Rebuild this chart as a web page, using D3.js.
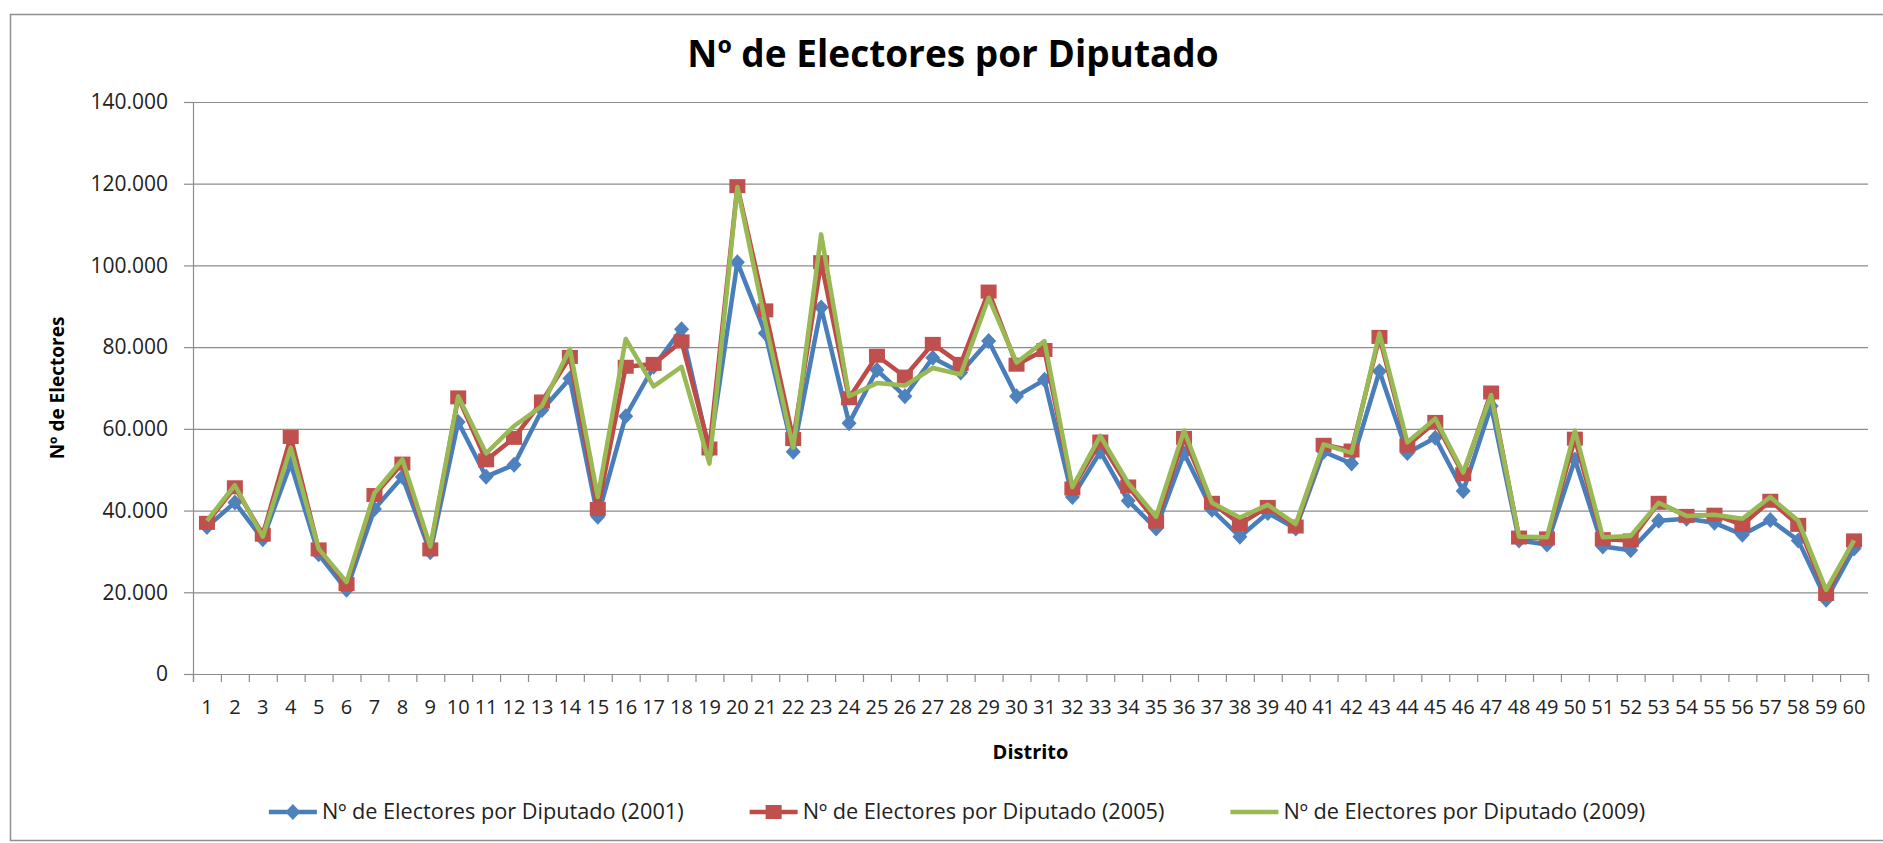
<!DOCTYPE html>
<html>
<head>
<meta charset="utf-8">
<script src="https://cdn.jsdelivr.net/npm/d3@7"></script>
<style>
  html, body { margin: 0; padding: 0; background: #fff; }
  svg { display: block; font-family: 'Open Sans', sans-serif; }
</style>
</head>
<body>
<svg id="chart" width="1883" height="843"></svg>
<script>
// categories (distritos) and the three series
const distritos = ['1','2','3','4','5','6','7','8','9','10','11','12','13','14','15','16','17','18','19','20',
  '21','22','23','24','25','26','27','28','29','30','31','32','33','34','35','36','37','38','39','40',
  '41','42','43','44','45','46','47','48','49','50','51','52','53','54','55','56','57','58','59','60'];

const electores2001 = [36000, 42000, 33000, 51500, 29300, 20600, 40400, 48200, 29800, 61700,
  48300, 51200, 64600, 72300, 38500, 63100, 75200, 84400, 54400, 100800,
  83400, 54400, 89700, 61400, 74400, 68000, 77400, 73800, 81500, 68000,
  72000, 43300, 54400, 42400, 35600, 54000, 40200, 33600, 39400, 35600,
  54400, 51500, 74100, 54100, 57800, 44800, 65600, 32700, 31700, 52500,
  31200, 30300, 37500, 38000, 37000, 34100, 37700, 32700, 18200, 30700];

const electores2005 = [37000, 45700, 34100, 58000, 30500, 22000, 43800, 51500, 30500, 67700,
  52300, 57800, 66700, 77600, 40400, 75200, 75900, 81400, 55200, 119400,
  89000, 57500, 100800, 67500, 77900, 72800, 80800, 75900, 93600, 75700,
  79300, 45400, 56900, 45900, 37300, 57800, 41900, 36700, 40900, 36100,
  56100, 54700, 82500, 55900, 61700, 48900, 68900, 33400, 33200, 57600,
  33000, 32700, 41900, 38700, 39000, 36500, 42400, 36500, 19600, 32700];

const electores2009 = [37500, 46200, 33600, 55400, 30700, 22500, 44300, 52500, 31200, 68000,
  54000, 60700, 65600, 79600, 43300, 82000, 70400, 75200, 51500, 119200,
  86000, 55400, 107600, 68000, 71200, 70600, 74900, 73300, 92100, 76200,
  81500, 45700, 58300, 46700, 38500, 59600, 41900, 38300, 41400, 36700,
  56200, 54100, 83400, 56700, 62500, 49300, 68300, 33600, 33500, 59600,
  33500, 33800, 41900, 38700, 39000, 38000, 43300, 37500, 20600, 32700];

const yTicks = [0, 20000, 40000, 60000, 80000, 100000, 120000, 140000];

const seriesNames = [
  'Nº de Electores por Diputado (2001)',
  'Nº de Electores por Diputado (2005)',
  'Nº de Electores por Diputado (2009)'
];

const series = [
  { name: seriesNames[0], values: electores2001, line: '#4A7EBB', fill: '#4F81BD', marker: 'diamond' },
  { name: seriesNames[1], values: electores2005, line: '#BE4B48', fill: '#C0504D', marker: 'square' },
  { name: seriesNames[2], values: electores2009, line: '#98B954', fill: '#9BBB59', marker: 'none' }
];

const svg = d3.select('#chart');
const margin = { top: 102, left: 193, right: 15, bottom: 169 };
const width = 1883 - margin.left - margin.right;
const height = 843 - margin.top - margin.bottom;
const gridColor = '#8c8c8c';

// outer chart frame (right side runs off the picture)
svg.append('rect')
  .attr('x', 10.5).attr('y', 14.5)
  .attr('width', 1900).attr('height', 826)
  .attr('fill', 'none').attr('stroke', '#909090').attr('stroke-width', 1.5);

// title
svg.append('text')
  .attr('x', 953).attr('y', 67)
  .attr('text-anchor', 'middle')
  .style('font-size', '37px').style('font-weight', 'bold')
  .text('Nº de Electores por Diputado');

const g = svg.append('g').attr('transform', `translate(${margin.left},${margin.top})`);

const x = d3.scaleBand().domain(distritos).range([0, width]).padding(0);
const xEdge = d3.scaleLinear().domain([0, distritos.length]).range([0, width]);
const y = d3.scaleLinear().domain([0, 140000]).range([height, 0]);

// gridlines
g.append('g')
  .attr('class', 'grid')
  .call(d3.axisLeft(y).tickValues(yTicks.slice(1)).tickSize(-width).tickFormat(''))
  .call(a => a.select('.domain').remove())
  .selectAll('line').attr('stroke', gridColor).attr('stroke-width', 1.2);

// y axis
g.append('g')
  .attr('class', 'y-axis')
  .call(d3.axisLeft(y).tickValues(yTicks).tickSize(9).tickPadding(16)
    .tickFormat(d => d3.format(',')(d).replace(/,/g, '.')))
  .call(a => a.select('.domain').attr('stroke', gridColor).attr('stroke-width', 1.2))
  .call(a => a.selectAll('line').attr('stroke', gridColor).attr('stroke-width', 1.2))
  .selectAll('text')
  .style('font-size', '21px').style('font-family', "'Open Sans', sans-serif").attr('fill', '#222');

// x axis: boundary ticks between categories
g.append('g')
  .attr('class', 'x-ticks')
  .attr('transform', `translate(0,${height})`)
  .call(d3.axisBottom(xEdge).tickValues(d3.range(distritos.length + 1)).tickSize(8).tickFormat(''))
  .call(a => a.select('.domain').attr('stroke', gridColor).attr('stroke-width', 1.2))
  .selectAll('line').attr('stroke', gridColor).attr('stroke-width', 1.2);

// x axis labels centred in each category
g.append('g')
  .attr('class', 'x-axis')
  .attr('transform', `translate(0,${height})`)
  .call(d3.axisBottom(x).tickSize(0).tickPadding(26))
  .call(a => a.select('.domain').remove())
  .selectAll('text')
  .style('font-size', '20px').style('font-family', "'Open Sans', sans-serif").attr('fill', '#222');

// axis titles
svg.append('text')
  .attr('x', margin.left + width / 2).attr('y', 759)
  .attr('text-anchor', 'middle')
  .style('font-size', '20px').style('font-weight', 'bold')
  .text('Distrito');

svg.append('text')
  .attr('transform', `translate(64,${margin.top + height / 2}) rotate(-90)`)
  .attr('text-anchor', 'middle')
  .style('font-size', '19px').style('font-weight', 'bold')
  .text('Nº de Electores');

const cx = d => x(d) + x.bandwidth() / 2;
const line = d3.line().x((v, i) => cx(distritos[i])).y(v => y(v));

const diamond = 'M0,-8L7.5,0L0,8L-7.5,0Z';

function drawMarker(sel, s) {
  if (s.marker === 'diamond') {
    sel.append('path').attr('d', diamond).attr('fill', s.fill);
  } else if (s.marker === 'square') {
    sel.append('rect').attr('x', -8).attr('y', -7).attr('width', 16).attr('height', 14).attr('fill', s.fill);
  }
}

// series: line first then its markers, drawn in order
series.forEach(s => {
  const sg = g.append('g').attr('class', 'series');
  sg.append('path')
    .datum(s.values)
    .attr('fill', 'none')
    .attr('stroke', s.line)
    .attr('stroke-width', 4.5)
    .attr('stroke-linejoin', 'round')
    .attr('d', line);

  if (s.marker !== 'none') {
    sg.selectAll('g.m')
      .data(s.values)
      .join('g')
      .attr('class', 'm')
      .attr('transform', (v, i) => `translate(${cx(distritos[i])},${y(v)})`)
      .each(function () { drawMarker(d3.select(this), s); });
  }
});

// legend
const legend = svg.append('g').attr('class', 'legend');
const legendY = 812;
const items = [];
series.forEach(s => {
  const item = legend.append('g');
  item.append('line')
    .attr('x1', 0).attr('x2', 48)
    .attr('y1', legendY).attr('y2', legendY)
    .attr('stroke', s.line).attr('stroke-width', 4.5);
  const m = item.append('g').attr('transform', `translate(24,${legendY})`);
  drawMarker(m, s);
  const t = item.append('text')
    .attr('x', 53).attr('y', legendY + 7)
    .style('font-size', '21.7px').attr('fill', '#222')
    .text(s.name);
  const w = 53 + t.node().getComputedTextLength();
  items.push({ item, w });
});
const gap = 66;
const total = d3.sum(items, d => d.w) + gap * (items.length - 1);
let lx = 957 - total / 2;
items.forEach(d => {
  d.item.attr('transform', `translate(${lx},0)`);
  lx += d.w + gap;
});
</script>
</body>
</html>
